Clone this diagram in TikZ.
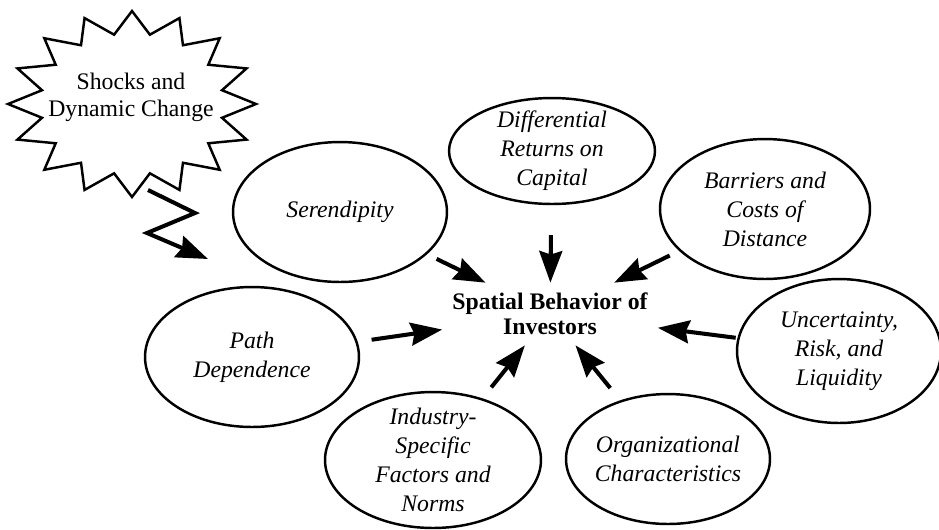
\documentclass[tikz,border=0pt]{standalone}
\usepackage{fontspec}
\setmainfont{Liberation Serif}
\usetikzlibrary{positioning,shapes.geometric,arrows.meta}

\tikzset{
  factor/.style={draw, ellipse, line width=1.4pt, inner sep=0pt},
  lbl/.style={align=center, inner sep=0pt, font=\fontsize{13.5}{16.5}\selectfont\itshape},
  pull/.style={line width=2.3pt, -{Stealth[length=18pt,width=13pt,inset=2pt]}, shorten <=6pt},
}

\begin{document}
\begin{tikzpicture}[x=0.02cm, y=-0.02cm]
	\useasboundingbox (0,0) rectangle (939,529);
	%% centre
	\node[align=center, inner sep=0pt, minimum width=4.3cm, minimum height=1.24cm,
	      font=\fontsize{13.5}{14.5}\selectfont\bfseries] (ctr) at (550,314) {Spatial Behavior of\\Investors};
	%% factors
	\node[factor, minimum width=4.28cm, minimum height=2.8cm,
	      label={[lbl]center:Serendipity}] (ser) at (340,212) {};
	\node[factor, minimum width=4.12cm, minimum height=2.12cm,
	      label={[lbl]center:Differential\\Returns on\\Capital}] (diff) at (552,151) {};
	\node[factor, minimum width=4.2cm, minimum height=2.8cm,
	      label={[lbl]center:Barriers and\\Costs of\\Distance}] (bar) at (765,209) {};
	\node[factor, minimum width=4.08cm, minimum height=2.88cm,
	      label={[lbl]center:Uncertainty,\\Risk, and\\Liquidity}] (unc) at (839,351) {};
	\node[factor, minimum width=4.28cm, minimum height=2.8cm,
	      label={[lbl]center:Path\\Dependence}] (path) at (252,357) {};
	\node[factor, minimum width=4.32cm, minimum height=2.72cm,
	      label={[lbl]center:Industry-\\Specific\\Factors and\\Norms}] (ind) at (433,460) {};
	\node[factor, minimum width=4.08cm, minimum height=2.6cm,
	      label={[lbl]center:Organizational\\Characteristics}] (org) at (668,459) {};
	%% shocks
	\node[align=center, inner sep=0pt, font=\fontsize{13.5}{15.5}\selectfont] (burst) at (131,97) {Shocks and\\Dynamic Change};
	\draw[line width=1.4pt, line join=miter]
		plot[domain=0:31, samples=32, variable=\k]
		({132+124*(1-0.26*mod(\k,2))*cos(90+11.25*\k)}, {104-93*(1-0.24*mod(\k,2))*sin(90+11.25*\k)}) -- cycle;
	\coordinate (z1) at (148,190);
	\coordinate (z2) at (195,213);
	\coordinate (z3) at (147,233);
	\coordinate (hit) at (208,259);
	\draw[line width=2.3pt, line join=miter, -{Stealth[length=18pt,width=13pt,inset=2pt]}]
		(z1) -- (z2) -- (z3) -- (hit);
	%% arrows
	\draw[pull] (ser) -- (ctr);
	\draw[pull, shorten <=17pt] (diff) -- (ctr);
	\draw[pull] (bar) -- (ctr);
	\draw[pull, shorten <=1pt] (unc) -- (ctr);
	\draw[pull, shorten <=8pt] (path) -- (ctr);
	\draw[pull, shorten <=8pt] (ind) -- (ctr);
	\draw[pull, shorten <=9pt] (org) -- (ctr);
\end{tikzpicture}
\end{document}
